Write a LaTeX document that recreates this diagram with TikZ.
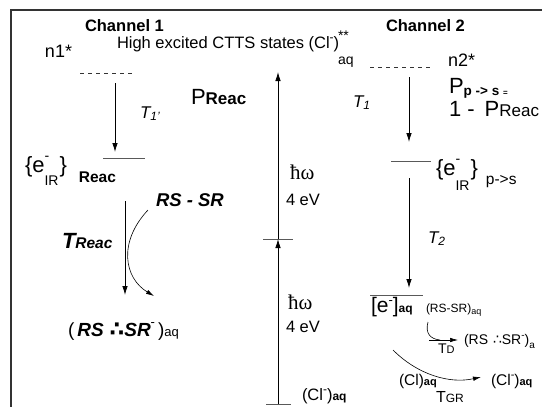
\documentclass[tikz,border=0pt]{standalone}
\usepackage{fontspec}
\setmainfont{Liberation Sans}
\newfontfamily\serifsym{Liberation Serif}
\newfontfamily\dejasym{DejaVu Sans}
\usetikzlibrary{arrows.meta}
\newcommand\fsz[1]{\fontsize{#1}{#1}\selectfont}
\begin{document}
\begin{tikzpicture}[x=1pt,y=-1pt,
  lbl/.style={inner sep=0pt,outer sep=0pt,anchor=base west},
  arr/.style={line width=0.8pt,-{Latex[length=9pt,width=5.5pt]}},
  thinarr/.style={line width=0.6pt,-{Latex[length=8pt,width=4.5pt]}},
  levelline/.style={line width=0.9pt,draw=black!65},
  dashlevel/.style={line width=0.7pt,dash pattern=on 4pt off 4pt,draw=black!80},
  framel/.style={line width=1.3pt,draw=black!80}]
\useasboundingbox (0,0) rectangle (542,407);
% frame
\coordinate (fbl) at (11,407); \coordinate (ftl) at (11,10); \coordinate (ftr) at (542,10);
\draw[framel] (fbl) -- (ftl) -- (ftr);
% titles
\node[lbl,font=\fsz{16.5}\bfseries] (ch1) at (85,31) {Channel 1};
\node[lbl,font=\fsz{16.5}\bfseries] (ch2) at (386,31) {Channel 2};
\node[lbl,font=\fsz{18}] (n1) at (45,57) {n1*};
\node[lbl,font=\fsz{16.5}] (high) at (117,48) {High excited CTTS states (Cl\raisebox{7pt}{\fsz{12}-})};
\node[lbl,font=\fsz{14}] (stars) at (338,40) {**};
\node[lbl,font=\fsz{14}] (aq0) at (338,64) {aq};
\node[lbl,font=\fsz{18}] (n2) at (448,66) {n2*};
% dashed upper levels
\coordinate (d1l) at (80,73); \coordinate (d1r) at (135,73);
\draw[dashlevel] (d1l) -- (d1r);
\coordinate (d2l) at (370,67); \coordinate (d2r) at (430,67);
\draw[dashlevel] (d2l) -- (d2r);
% probabilities
\node[lbl] (preac) at (191,104) {\fsz{22}P\fsz{17}\bfseries Reac};
\node[lbl] (pps) at (449,93) {\fsz{22}P\raisebox{-2pt}{\fsz{13.5}\bfseries p -> s \fsz{8}=}};
\node[lbl] (onemp) at (449,116) {\fsz{22}1 -\hspace{10pt}P\fsz{17}Reac};
% channel 1
\node[lbl] (t1p) at (140,118) {\fsz{17}\itshape T\raisebox{-2pt}{\fsz{12}1'}};
\coordinate (a1s) at (115,83); \coordinate (a1e) at (115,152);
\draw[arr] (a1s) -- (a1e);
\coordinate (l1l) at (103,158); \coordinate (l1r) at (145,158);
\draw[levelline] (l1l) -- (l1r);
\node[lbl] (eir1) at (25,172) {\fsz{22}\{e\rlap{\raisebox{12pt}{\fsz{14}-}}\raisebox{-13pt}{\fsz{14}IR}\hspace{1pt}\}\hspace{12pt}\raisebox{-10pt}{\fsz{15.5}\bfseries Reac}};
\node[lbl,font=\fsz{18.5}\bfseries\itshape] (rssr1) at (156,206) {RS - SR};
\node[lbl,font=\bfseries\itshape] (treac) at (62,248) {\fsz{22}T\fsz{15.5}Reac};
\coordinate (a2s) at (125,201); \coordinate (a2e) at (125,295);
\draw[arr] (a2s) -- (a2e);
\coordinate (c1s) at (148,210); \coordinate (c1e) at (154,296);
\draw[thinarr] (c1s) .. controls (118,242) and (124,278) .. (c1e);
\node[lbl] (prod1) at (68,336) {\fsz{19}(\hspace{3pt}{\bfseries\itshape RS}\hspace{6pt}{\dejasym\bfseries\fsz{21}∴}{\bfseries\itshape SR}\raisebox{10pt}{\fsz{13}-}\hspace{3pt})\fsz{13}aq};
% central excitation
\coordinate (ctick) at (278,239); \coordinate (ctop) at (278,72); \coordinate (cbot) at (278,404);
\coordinate (tkl) at (263,239); \coordinate (tkr) at (293,239);
\coordinate (bkl) at (266,404); \coordinate (bkr) at (291,404);
\draw[levelline] (tkl) -- (tkr);
\draw[levelline] (bkl) -- (bkr);
\draw[arr] (cbot) -- (ctick);
\draw[arr] (ctick) -- (ctop);
\node[lbl] (hw1) at (290,179) {\serifsym\fsz{21}ħω};
\node[lbl,font=\fsz{16.5}] (ev1) at (286,205) {4 eV};
\node[lbl] (hw2) at (288,309) {\serifsym\fsz{21}ħω};
\node[lbl,font=\fsz{16.5}] (ev2) at (286,332) {4 eV};
\node[lbl] (clb) at (302,400) {\fsz{16.5}(Cl\raisebox{7pt}{\fsz{12}-})\fsz{12}\bfseries aq};
% channel 2
\node[lbl] (t1) at (353,107) {\fsz{17}\itshape T\raisebox{-2pt}{\fsz{12}1}};
\coordinate (b1s) at (409,77); \coordinate (b1e) at (409,142);
\draw[arr] (b1s) -- (b1e);
\coordinate (l2l) at (391,161); \coordinate (l2r) at (431,161);
\draw[levelline] (l2l) -- (l2r);
\node[lbl] (eir2) at (436,175) {\fsz{22}\{e\rlap{\raisebox{12pt}{\fsz{14}-}}\raisebox{-15pt}{\fsz{14}IR}\hspace{1pt}\}\hspace{8pt}\raisebox{-9pt}{\fsz{15.5}p->s}};
\coordinate (b2s) at (409,178); \coordinate (b2e) at (409,288);
\draw[arr] (b2s) -- (b2e);
\node[lbl] (t2) at (428,243) {\fsz{17}\itshape T\raisebox{-2pt}{\fsz{12}2}};
\coordinate (l3l) at (370,295); \coordinate (l3r) at (423,295);
\draw[levelline] (l3l) -- (l3r);
\node[lbl] (eaq) at (371,312) {\fsz{21}[e\raisebox{8pt}{\fsz{13}-}]\fsz{12}\bfseries aq};
\node[lbl] (rssr2) at (426,312) {\fsz{12}(RS-SR)\raisebox{-2pt}{\fsz{9}aq}};
\coordinate (sc1) at (428,322); \coordinate (sc2) at (440,340);
\draw[line width=0.6pt] (sc1) .. controls (425,333) and (430,339) .. (sc2);
\coordinate (tdl) at (429,340); \coordinate (tdr) at (458,340);
\draw[thinarr] (tdl) -- (tdr);
\node[lbl] (td) at (438,353) {\fsz{14}T\fsz{11}D};
\node[lbl] (prod2) at (464,344) {\fsz{14}(RS \hspace{1pt}{\dejasym ∴}SR\raisebox{6pt}{\fsz{10}-})\raisebox{-4pt}{\fsz{10}a}};
\coordinate (lc1) at (393,350); \coordinate (lc2) at (481,377);
\draw[thinarr] (lc1) .. controls (418,375) and (450,384) .. (lc2);
\node[lbl] (clm) at (399,385) {\fsz{15.5}(Cl)\fsz{11}\bfseries aq};
\node[lbl] (tgr) at (436,402) {\fsz{16}T\fsz{12}GR};
\node[lbl] (clr) at (491,385) {\fsz{15.5}(Cl\raisebox{7pt}{\fsz{11}-})\fsz{11}\bfseries aq};
\end{tikzpicture}
\end{document}
